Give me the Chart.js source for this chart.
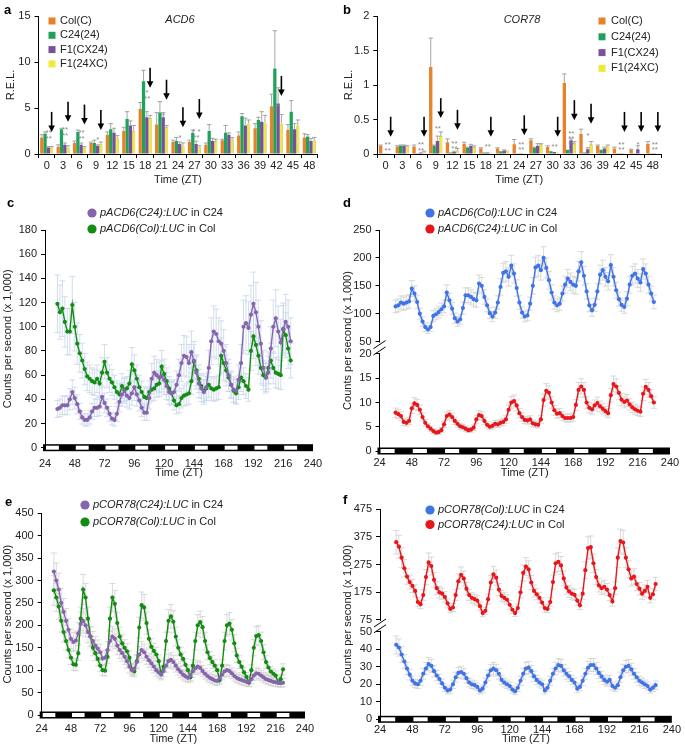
<!DOCTYPE html>
<html lang="en">
<head>
<meta charset="UTF-8">
<title>ACD6 and COR78 expression in Col, C24 and hybrids</title>
<script src="https://cdn.jsdelivr.net/npm/chart.js"></script>
<style>
  body { margin: 0; width: 685px; height: 750px; position: relative; background: #fff; overflow: hidden; }
  canvas { position: absolute; }
</style>
</head>
<body>
<canvas id="chartA" width="330" height="192" style="left:0;top:0"></canvas>
<canvas id="chartB" width="340" height="192" style="left:340px;top:0"></canvas>
<canvas id="chartC" width="335" height="290" style="left:0;top:190px"></canvas>
<canvas id="chartD" width="345" height="290" style="left:340px;top:190px"></canvas>
<canvas id="chartE" width="335" height="270" style="left:0;top:480px"></canvas>
<canvas id="chartF" width="345" height="270" style="left:340px;top:480px"></canvas>

<script>
// ---- bar panels (a, b): relative expression level at each ZT ----
const barTimes = [0, 3, 6, 9, 12, 15, 18, 21, 24, 27, 30, 33, 36, 39, 42, 45, 48];
const barNames = ['Col(C)', 'C24(24)', 'F1(CX24)', 'F1(24XC)'];

const acd6Col = [1.8, 0.8, 1.2, 1.2, 2.1, 2.5, 4.9, 3.2, 1.3, 1.3, 1.0, 1.5, 2.0, 2.8, 5.2, 2.6, 1.8];
const acd6C24 = [2.2, 2.7, 2.4, 1.2, 2.7, 3.8, 7.9, 4.5, 1.4, 2.3, 2.5, 2.3, 4.1, 3.7, 9.3, 4.6, 1.9];
const acd6CX = [0.7, 1.0, 1.0, 0.9, 2.3, 3.1, 4.0, 4.0, 1.1, 1.1, 1.4, 2.1, 3.1, 3.5, 5.5, 2.7, 1.4];
const acd6XC = [0.7, 0.7, 0.7, 1.1, 1.8, 2.5, 3.9, 2.9, 0.9, 0.8, 1.4, 1.6, 3.3, 3.4, 3.3, 3.1, 1.5];
const acd6ColSd = [0.3, 0.2, 0.2, 0.1, 0.3, 0.4, 0.7, 1.3, 0.2, 0.2, 0.2, 0.1, 0.4, 0.5, 1.3, 0.6, 0.4];
const acd6C24Sd = [0.2, 0.1, 0.2, 0.3, 0.6, 0.8, 1.2, 1.2, 0.4, 0.3, 0.7, 0.8, 0.3, 0.3, 4.1, 1.2, 0.2];
const acd6CXSd = [0.1, 0.2, 0.2, 0.1, 0.5, 0.5, 0.6, 0.5, 0.2, 0.3, 0.3, 0.2, 0.8, 1.1, 1.7, 0.6, 0.3];
const acd6XCSd = [0.1, 0.2, 0.1, 0.2, 0.2, 0.6, 0.3, 0.2, 0.3, 0.1, 0.2, 0.2, 0.4, 0.8, 1.0, 0.6, 0.3];
const acd6Arrows = [[0, 2.4], [3, 3.5], [6, 3.2], [9, 2.6], [18, 7.2], [21, 5.9], [24, 2.9], [27, 3.8], [42, 6.3]];
const acd6Stars = [[0, 2.3, '**', '**'], [3, 2.6, '**', '**'], [6, 2.3, '**', '**'], [9, 1.5, '*'],
  [18, 6.6, '*', '**'], [21, 4.1, '*'], [24, 1.8, '*'], [27, 2.4, '* *', '**'], [42, 5.1, '*']];

const cor78Col = [0.12, 0.11, 0.11, 1.26, 0.17, 0.15, 0.08, 0.08, 0.14, 0.20, 0.10, 1.03, 0.29, 0.12, 0.08, 0.06, 0.15];
const cor78C24 = [0.005, 0.12, 0.01, 0.12, 0.02, 0.09, 0.02, 0.04, 0.005, 0.09, 0.04, 0.06, 0.02, 0.06, 0.01, 0.005, 0.005];
const cor78CX = [0.005, 0.12, 0.02, 0.19, 0.03, 0.12, 0.02, 0.05, 0.005, 0.12, 0.03, 0.20, 0.07, 0.08, 0.01, 0.07, 0.005];
const cor78XC = [0.005, 0.11, 0.03, 0.26, 0.05, 0.10, 0.02, 0.05, 0.005, 0.14, 0.02, 0.16, 0.14, 0.12, 0.005, 0.005, 0.005];
const cor78ColSd = [0.01, 0.01, 0.02, 0.42, 0.05, 0.02, 0.01, 0.01, 0.07, 0.02, 0.02, 0.13, 0.07, 0.01, 0.02, 0.01, 0.03];
const cor78C24Sd = [0, 0.01, 0, 0.01, 0, 0.01, 0, 0, 0, 0.01, 0, 0, 0, 0, 0, 0, 0];
const cor78CXSd = [0, 0.01, 0, 0.07, 0.01, 0.02, 0, 0.01, 0, 0.03, 0, 0.02, 0.02, 0.02, 0, 0.05, 0];
const cor78XCSd = [0, 0.01, 0.01, 0.06, 0.03, 0.02, 0, 0, 0, 0.01, 0, 0.02, 0.04, 0.01, 0, 0, 0];
const cor78Arrows = [[0, 0.25], [6, 0.25], [9, 0.52], [12, 0.35], [18, 0.25], [24, 0.27], [30, 0.25],
  [33, 0.49], [36, 0.44], [42, 0.32], [45, 0.32], [48, 0.32]];
const cor78Stars = [[0, 0.13, '**', '**'], [6, 0.13, '**', '**'], [9, 0.36, '**'], [12, 0.15, '**', '**'],
  [18, 0.1, '**'], [24, 0.14, '**', '**'], [30, 0.11, '**'], [33, 0.3, '**', '**', '**'], [36, 0.27, '*'],
  [42, 0.14, '**', '**'], [45, 0.13, '*'], [48, 0.14, '**', '**']];

// ---- luciferase traces (c-f) ----
const timesCE = [34, 36, 38, 40, 42, 44, 46, 48, 50, 52, 54, 56, 58, 60, 62, 64, 66, 68, 70, 72, 74, 76, 78, 80,
  82, 84, 86, 88, 90, 92, 94, 96, 98, 100, 102, 104, 106, 108, 110, 112, 114, 116, 118, 120, 122, 124, 126,
  128, 130, 132, 134, 136, 138, 140, 142, 144, 146, 148, 150, 152, 154, 156, 158, 160, 162, 164, 166, 168,
  170, 172, 174, 176, 178, 180, 182, 184, 186, 188, 190, 192, 194, 196, 198, 200, 202, 204, 206, 208, 210,
  212, 214, 216, 218, 220, 222];
const timesDF = [36, 38, 40, 42, 44, 46, 48, 50, 52, 54, 56, 58, 60, 62, 64, 66, 68, 70, 72, 74, 76, 78, 80,
  82, 84, 86, 88, 90, 92, 94, 96, 98, 100, 102, 104, 106, 108, 110, 112, 114, 116, 118, 120, 122, 124, 126,
  128, 130, 132, 134, 136, 138, 140, 142, 144, 146, 148, 150, 152, 154, 156, 158, 160, 162, 164, 166, 168,
  170, 172, 174, 176, 178, 180, 182, 184, 186, 188, 190, 192, 194, 196, 198, 200, 202, 204, 206, 208, 210,
  212, 214, 216, 218, 220, 222, 224, 226, 228];

const acd6C24inC24 = [32, 33, 35, 35, 35, 40, 46, 41, 36, 30, 25, 23, 23, 25, 30, 33, 33, 34, 42, 37,
  33, 28, 24, 23, 28, 38, 44, 47, 43, 41, 45, 50, 44, 39, 33, 29, 29, 41, 57, 62,
  60, 58, 59, 56, 51, 46, 45, 46, 52, 60, 70, 76, 75, 70, 79, 72, 62, 53, 49, 46,
  50, 66, 88, 96, 94, 88, 86, 80, 70, 60, 52, 48, 47, 56, 70, 100, 103, 99, 110, 119,
  112, 100, 86, 66, 58, 62, 82, 100, 107, 96, 87, 98, 104, 100, 88];
const acd6ColinCol = [119, 112, 115, 104, 96, 96, 118, 100, 86, 78, 72, 65, 59, 57, 55, 54, 57, 53, 62, 71,
  62, 57, 54, 50, 46, 44, 51, 48, 49, 53, 69, 64, 57, 50, 46, 42, 41, 46, 48, 49,
  52, 53, 67, 61, 55, 49, 45, 39, 35, 36, 41, 43, 44, 45, 55, 71, 64, 57, 51, 47,
  49, 52, 49, 48, 49, 50, 76, 70, 64, 58, 52, 47, 45, 50, 58, 55, 51, 48, 80, 92,
  85, 76, 66, 60, 58, 66, 72, 66, 62, 61, 60, 98, 93, 82, 72];

const acd6ColinC24 = [113, 115, 120, 118, 120, 122, 145, 136, 121, 100, 86, 76, 72, 76, 96, 99, 103, 108, 113, 138,
  124, 109, 92, 86, 90, 110, 133, 133, 130, 126, 124, 154, 150, 130, 115, 101, 95, 102, 120, 148,
  173, 176, 166, 186, 172, 146, 120, 102, 95, 97, 118, 150, 183, 186, 178, 200, 182, 160, 138, 120,
  115, 118, 136, 152, 163, 157, 152, 150, 176, 192, 168, 140, 115, 106, 116, 140, 170, 178, 166, 158,
  187, 166, 142, 126, 116, 112, 127, 152, 168, 172, 163, 156, 180, 172, 152, 136, 121];
const acd6C24inCol = [7.9, 7.6, 7.2, 6.0, 5.8, 6.2, 8.8, 9.8, 9.5, 8.5, 7.0, 5.8, 5.1, 4.6, 4.1, 3.8, 3.9, 4.3, 5.5, 7.2,
  7.5, 7.0, 6.2, 5.6, 5.1, 4.9, 4.6, 4.3, 4.4, 4.8, 6.5, 7.4, 7.2, 6.2, 5.4, 5.0, 5.2, 5.6, 5.5, 5.8,
  6.0, 6.5, 8.5, 10.0, 10.3, 9.4, 7.8, 7.0, 6.4, 6.3, 6.5, 5.7, 5.5, 5.4, 6.5, 10.5, 12.4, 12.0, 10.0, 8.4,
  7.7, 7.8, 7.2, 6.8, 6.8, 6.8, 7.0, 9.5, 12.6, 13.3, 12.6, 10.0, 8.9, 8.6, 9.4, 9.9, 9.2, 8.7, 8.2, 7.8,
  11.5, 13.8, 13.3, 12.0, 10.6, 10.1, 10.4, 9.6, 9.0, 8.6, 8.3, 8.1, 11.8, 13.2, 12.6, 11.3, 10.0];

const cor78C24inC24 = [320, 300, 280, 250, 230, 210, 190, 170, 163, 166, 182, 203, 210, 200, 185, 175, 165, 155, 148, 140,
  126, 128, 145, 165, 175, 170, 155, 145, 138, 130, 120, 108, 100, 103, 118, 135, 145, 140, 130, 122,
  115, 108, 100, 95, 90, 98, 110, 120, 123, 118, 110, 102, 96, 90, 86, 83, 88, 97, 104, 108,
  105, 98, 92, 87, 83, 80, 77, 76, 82, 90, 97, 100, 98, 93, 87, 83, 80, 78, 76, 74,
  74, 80, 88, 93, 92, 88, 84, 80, 78, 76, 74, 73, 72, 71, 72];
const cor78ColinCol = [278, 262, 242, 210, 185, 165, 145, 128, 113, 112, 138, 215, 280, 262, 215, 175, 150, 138, 125, 110,
  100, 99, 130, 215, 262, 248, 205, 175, 160, 150, 142, 128, 102, 97, 120, 195, 245, 240, 205, 170,
  152, 143, 135, 120, 92, 108, 165, 210, 220, 208, 175, 150, 135, 125, 112, 100, 84, 110, 165, 200,
  207, 196, 165, 140, 127, 118, 110, 100, 78, 110, 165, 200, 204, 190, 160, 133, 118, 108, 95, 85,
  72, 100, 150, 176, 178, 165, 140, 118, 106, 97, 92, 88, 72, 80, 102];

const cor78ColinC24 = [42.5, 41, 37, 33, 29, 25.5, 22, 20.5, 20, 22, 26, 29, 31.5, 30.5, 27.5, 25, 23, 20.5, 18, 16.5,
  17, 20, 24, 26.5, 27, 26, 23.5, 21, 20, 19.5, 18.5, 16.5, 17.5, 21, 25, 28, 29, 28, 26, 22.5,
  21, 20, 19, 17, 16, 18, 22, 26, 29, 29.5, 27.5, 24.5, 22.5, 21, 20, 16.5, 18, 22, 26, 29,
  31, 30.5, 28, 26, 24.5, 22.5, 21, 17.5, 18.5, 22, 26, 29.5, 31, 31, 29, 26.5, 24.5, 22.5, 21.5, 22.5,
  19, 18, 19.5, 24, 28, 30, 30.5, 28.5, 26, 24, 22, 21, 20, 19, 17, 18, 19.5];
const cor78C24inCol = [356, 340, 300, 262, 232, 212, 198, 180, 140, 132, 165, 230, 283, 270, 220, 190, 175, 170, 158, 135,
  115, 120, 165, 215, 238, 225, 188, 165, 155, 150, 145, 125, 100, 108, 150, 210, 240, 228, 185, 162,
  155, 148, 130, 112, 100, 118, 175, 245, 268, 258, 210, 180, 168, 155, 138, 118, 115, 140, 212, 280,
  285, 272, 225, 192, 178, 170, 166, 145, 128, 170, 255, 335, 338, 280, 230, 200, 190, 195, 185, 165,
  142, 190, 300, 360, 355, 300, 258, 225, 232, 205, 188, 170, 180, 195, 155, 168, 205];

const ticksC = [0, 20, 40, 60, 80, 100, 120, 140, 160, 180];
const ticksD = [0, 5, 10, 15, 20, 50, 100, 150, 200, 250];
const ticksE = [0, 50, 100, 150, 200, 250, 300, 350, 400, 450];
const ticksF = [0, 10, 20, 30, 40, 50, 75, 175, 275, 375, 475];

// ---- styling ----
const FONT = "'Liberation Sans', Arial, sans-serif";
const barColors = ['#e8822a', '#1fa35b', '#7b4e9e', '#eeea3a'];
const PURPLE = '#8765ad', GREEN = '#138c13', BLUE = '#3f74e6', RED = '#e8161b';

Chart.defaults.font.family = FONT;
Chart.defaults.font.size = 11;
Chart.defaults.color = '#222';
Chart.defaults.animation = false;
Chart.defaults.events = [];
Chart.defaults.plugins.legend.display = false;
Chart.defaults.plugins.tooltip.enabled = false;

// linear axis with a gap between a low and a high segment (panels d and f)
class BrokenScale extends Chart.LinearScale {
  getPixelForValue(v) {
    const b = this.options.brk;
    const h = this.bottom - this.top;
    const lowH = h * b.lowFrac, gapH = h * b.gapFrac, highH = h - lowH - gapH;
    if (v <= b.lo1) return this.bottom - (v - b.lo0) / (b.lo1 - b.lo0) * lowH;
    if (v >= b.hi0) return this.top + highH - (v - b.hi0) / (b.hi1 - b.hi0) * highH;
    return this.bottom - lowH - gapH / 2;
  }
  getValueForPixel(px) {
    const b = this.options.brk;
    const h = this.bottom - this.top;
    const lowH = h * b.lowFrac, gapH = h * b.gapFrac, highH = h - lowH - gapH;
    if (px >= this.bottom - lowH) return b.lo0 + (this.bottom - px) / lowH * (b.lo1 - b.lo0);
    return b.hi0 + (this.top + highH - px) / highH * (b.hi1 - b.hi0);
  }
}
BrokenScale.id = 'broken';
Chart.register(BrokenScale);

const fixW = w => s => { s.width = w; };
const fixH = h => s => { s.height = h; };

function drawLegend(ctx, lg) {
  lg.items.forEach((it, k) => {
    const y = lg.y + k * lg.dy;
    ctx.fillStyle = it[0];
    if (lg.shape === 'circle') {
      ctx.beginPath(); ctx.arc(lg.x, y, 4.6, 0, Math.PI * 2); ctx.fill();
    } else {
      ctx.fillRect(lg.x - 3.5, y - 3.5, 7, 7);
    }
    let tx = lg.tx;
    ctx.fillStyle = '#222';
    ctx.textAlign = 'left';
    ctx.textBaseline = 'middle';
    if (it[1]) {
      ctx.font = 'italic 11px ' + FONT;
      ctx.fillText(it[1], tx, y);
      tx += ctx.measureText(it[1]).width;
    }
    ctx.font = '11px ' + FONT;
    ctx.fillText(it[2], tx, y);
  });
}

// per-chart decorations: panel letter, legend, error bars, arrows, LD strip, axis break
function decor(d) {
  return {
    id: 'decor',
    beforeDatasetsDraw(chart) {
      if (!d.errColor) return;
      const ctx = chart.ctx;
      ctx.save();
      ctx.strokeStyle = d.errColor;
      ctx.lineWidth = 0.8;
      chart.data.datasets.forEach((ds, i) => {
        if (!ds.relErr) return;
        const meta = chart.getDatasetMeta(i);
        const ys = chart.scales[meta.yAxisID];
        meta.data.forEach((pt, j) => {
          const v = ds.data[j].y;
          const y1 = ys.getPixelForValue(v * (1 - ds.relErr));
          const y2 = ys.getPixelForValue(v * (1 + ds.relErr));
          ctx.beginPath();
          ctx.moveTo(pt.x, y1); ctx.lineTo(pt.x, y2);
          ctx.moveTo(pt.x - 3, y1); ctx.lineTo(pt.x + 3, y1);
          ctx.moveTo(pt.x - 3, y2); ctx.lineTo(pt.x + 3, y2);
          ctx.stroke();
        });
      });
      ctx.restore();
    },
    afterDatasetsDraw(chart) {
      const ctx = chart.ctx;
      const ys = chart.scales.y;
      ctx.save();
      ctx.strokeStyle = '#8f8f8f';
      ctx.lineWidth = 0.8;
      chart.data.datasets.forEach((ds, i) => {
        if (!ds.sd) return;
        chart.getDatasetMeta(i).data.forEach((bar, j) => {
          if (!ds.sd[j]) return;
          const top = ys.getPixelForValue(ds.data[j] + ds.sd[j]);
          ctx.beginPath();
          ctx.moveTo(bar.x, bar.y); ctx.lineTo(bar.x, top);
          ctx.moveTo(bar.x - 2.2, top); ctx.lineTo(bar.x + 2.2, top);
          ctx.stroke();
        });
      });
      ctx.restore();
    },
    afterDraw(chart) {
      const ctx = chart.ctx, area = chart.chartArea;
      const xs = chart.scales.x, ys = chart.scales.y;
      ctx.save();
      ctx.fillStyle = '#000';
      ctx.font = 'bold 13px ' + FONT;
      ctx.textAlign = 'left';
      ctx.textBaseline = 'middle';
      ctx.fillText(d.letter[0], d.letter[1], d.letter[2]);

      if (d.gene) {
        ctx.font = 'italic 11px ' + FONT;
        ctx.textAlign = 'center';
        ctx.fillStyle = '#222';
        ctx.fillText(d.gene[0], d.gene[1], d.gene[2]);
      }
      if (d.legend) drawLegend(ctx, d.legend);

      if (d.stars) {
        const w = (area.right - area.left) / barTimes.length;
        ctx.fillStyle = '#8a8a8a';
        ctx.font = '8px ' + FONT;
        ctx.textAlign = 'center';
        d.stars.forEach(s => {
          const x = xs.getPixelForValue(barTimes.indexOf(s[0])) + 0.12 * w;
          const y = ys.getPixelForValue(s[1]);
          s.slice(2).forEach((txt, r) => ctx.fillText(txt, x, y + r * 5.5));
        });
      }
      if (d.arrows) {
        const w = (area.right - area.left) / barTimes.length;
        ctx.strokeStyle = '#000';
        ctx.fillStyle = '#000';
        ctx.lineWidth = 1.6;
        d.arrows.forEach(a => {
          const x = xs.getPixelForValue(barTimes.indexOf(a[0])) + 0.3 * w;
          const tip = ys.getPixelForValue(a[1]);
          ctx.beginPath();
          ctx.moveTo(x, tip - 20); ctx.lineTo(x, tip - 5);
          ctx.stroke();
          ctx.beginPath();
          ctx.moveTo(x - 3.3, tip - 6.5); ctx.lineTo(x + 3.3, tip - 6.5); ctx.lineTo(x, tip);
          ctx.closePath(); ctx.fill();
        });
      }
      if (d.ld) {
        const y0 = area.bottom;
        const x0 = xs.getPixelForValue(24), x1 = xs.getPixelForValue(240);
        ctx.fillStyle = '#000';
        ctx.fillRect(x0 - 2, y0 - 3.5, x1 - x0 + 2, 7);
        ctx.fillStyle = '#fff';
        for (let t = 24; t < 240; t += 24) {
          const a = xs.getPixelForValue(t) + 1, b = xs.getPixelForValue(t + 12) - 1;
          ctx.fillRect(a, y0 - 2, b - a, 4);
        }
      }
      if (d.brk) {
        const b = ys.options.brk;
        const yHi = ys.getPixelForValue(b.hi0), yLo = ys.getPixelForValue(b.lo1);
        const x = area.left;
        ctx.fillStyle = '#fff';
        ctx.fillRect(x - 2, yHi + 1, 4, yLo - yHi - 2);
        ctx.strokeStyle = '#000';
        ctx.lineWidth = 1;
        [yHi + 3, yLo - 3].forEach(y => {
          ctx.beginPath();
          ctx.moveTo(x - 6, y + 4); ctx.lineTo(x + 6, y - 4);
          ctx.stroke();
        });
      }
      ctx.restore();
    }
  };
}

function barChart(id, cfg) {
  new Chart(document.getElementById(id), {
    type: 'bar',
    data: {
      labels: barTimes,
      datasets: cfg.values.map((vals, k) => ({
        label: barNames[k],
        data: vals,
        sd: cfg.sds[k],
        backgroundColor: barColors[k],
        borderColor: k === 3 ? '#b0ab2a' : barColors[k],
        borderWidth: k === 3 ? 0.6 : 0,
        barPercentage: 1,
        categoryPercentage: 0.8
      }))
    },
    options: {
      responsive: false,
      layout: { padding: cfg.pad },
      scales: {
        x: {
          grid: { offset: true, drawOnChartArea: false, tickLength: 4, color: '#000' },
          border: { color: '#000' },
          ticks: { padding: 1, autoSkip: false, maxRotation: 0 },
          title: { display: true, text: 'Time (ZT)', padding: { top: 0, bottom: 5 } },
          afterFit: fixH(38)
        },
        y: {
          min: 0, max: cfg.max,
          ticks: { stepSize: cfg.step, padding: 4, callback: v => String(v) },
          grid: { drawOnChartArea: false, tickLength: 4, color: '#000' },
          border: { color: '#000' },
          title: { display: true, text: 'R.E.L.', padding: { top: 2, bottom: 0 } },
          afterFit: fixW(cfg.yW)
        }
      }
    },
    plugins: [decor(cfg.decor)]
  });
}

function lineChart(id, cfg) {
  new Chart(document.getElementById(id), {
    type: 'line',
    data: {
      datasets: cfg.series.map(s => ({
        label: s.label,
        data: cfg.times.map((t, i) => ({ x: t, y: s.values[i] })),
        borderColor: s.color,
        backgroundColor: s.color,
        pointBackgroundColor: s.color,
        borderWidth: 1.4,
        pointRadius: 2.1,
        pointBorderWidth: 0,
        relErr: s.relErr
      }))
    },
    options: {
      responsive: false,
      layout: { padding: cfg.pad },
      scales: {
        x: {
          type: 'linear', min: 24, max: 240,
          ticks: { stepSize: 24, padding: cfg.xPad, callback: v => String(v) },
          grid: { display: false, drawTicks: false, tickLength: 0 },
          border: { display: false },
          title: { display: true, text: 'Time (ZT)', padding: { top: 0, bottom: 0 } },
          afterFit: fixH(cfg.xH)
        },
        y: {
          type: cfg.brk ? 'broken' : 'linear',
          min: 0, max: cfg.yTicks[cfg.yTicks.length - 1],
          brk: cfg.brk,
          afterBuildTicks: s => { s.ticks = cfg.yTicks.map(v => ({ value: v })); },
          ticks: { padding: 4, callback: v => String(v) },
          grid: { drawOnChartArea: false, tickLength: 4, color: '#000' },
          border: { color: '#000' },
          title: { display: true, text: 'Counts per second (x 1,000)', padding: { top: 1, bottom: 0 } },
          afterFit: fixW(cfg.yW)
        }
      }
    },
    plugins: [decor(Object.assign({ ld: true, brk: !!cfg.brk }, cfg.decor))]
  });
}

barChart('chartA', {
  values: [acd6Col, acd6C24, acd6CX, acd6XC],
  sds: [acd6ColSd, acd6C24Sd, acd6CXSd, acd6XCSd],
  max: 15, step: 5, yW: 36.5,
  pad: { left: 2, right: 12.5, top: 16, bottom: 0 },
  decor: {
    letter: ['a', 4, 10], gene: ['ACD6', 180, 20],
    legend: { shape: 'square', x: 52, tx: 60, y: 21, dy: 14.3, items: barNames.map((n, k) => [barColors[k], '', n]) },
    arrows: acd6Arrows, stars: acd6Stars
  }
});

barChart('chartB', {
  values: [cor78Col, cor78C24, cor78CX, cor78XC],
  sds: [cor78ColSd, cor78C24Sd, cor78CXSd, cor78XCSd],
  max: 2, step: 0.5, yW: 37.3,
  pad: { left: 0, right: 18.8, top: 16, bottom: 0 },
  decor: {
    letter: ['b', 3, 10], gene: ['COR78', 182, 20],
    legend: { shape: 'square', x: 262, tx: 271, y: 21, dy: 15.8, items: barNames.map((n, k) => [barColors[k], '', n]) },
    arrows: cor78Arrows, stars: cor78Stars
  }
});

lineChart('chartC', {
  times: timesCE, yTicks: ticksC, yW: 45, xH: 32.3, xPad: 10,
  pad: { left: 0, right: 22, top: 40, bottom: 0 },
  series: [
    { label: 'pACD6(C24):LUC in C24', values: acd6C24inC24, color: PURPLE, relErr: 0.22 },
    { label: 'pACD6(Col):LUC in Col', values: acd6ColinCol, color: GREEN, relErr: 0.2 }
  ],
  decor: {
    letter: ['c', 7, 13], errColor: '#c5d5ea',
    legend: { shape: 'circle', x: 92, tx: 100, y: 23, dy: 16, items: [
      [PURPLE, 'pACD6(C24):LUC', ' in C24'], [GREEN, 'pACD6(Col):LUC', ' in Col']] }
  }
});

lineChart('chartD', {
  times: timesDF, yTicks: ticksD, yW: 39.5, xH: 29, xPad: 5,
  pad: { left: 0, right: 15, top: 40, bottom: 0 },
  brk: { lo0: 0, lo1: 20, hi0: 50, hi1: 250, lowFrac: 0.439, gapFrac: 0.056 },
  series: [
    { label: 'pACD6(Col):LUC in C24', values: acd6ColinC24, color: BLUE, relErr: 0.1 },
    { label: 'pACD6(C24):LUC in Col', values: acd6C24inCol, color: RED, relErr: 0.12 }
  ],
  decor: {
    letter: ['d', 3, 13], errColor: '#cfcfcf',
    legend: { shape: 'circle', x: 90, tx: 98, y: 23, dy: 16, items: [
      [BLUE, 'pACD6(Col):LUC', ' in C24'], [RED, 'pACD6(C24):LUC', ' in Col']] }
  }
});

lineChart('chartE', {
  times: timesCE, yTicks: ticksE, yW: 41.7, xH: 31, xPad: 7,
  pad: { left: 0, right: 30, top: 33.3, bottom: 4 },
  series: [
    { label: 'pCOR78(C24):LUC in C24', values: cor78C24inC24, color: PURPLE, relErr: 0.13 },
    { label: 'pCOR78(Col):LUC in Col', values: cor78ColinCol, color: GREEN, relErr: 0.12 }
  ],
  decor: {
    letter: ['e', 5, 22], errColor: '#cfcfcf',
    legend: { shape: 'circle', x: 85, tx: 93, y: 25, dy: 17, items: [
      [PURPLE, 'pCOR78(C24):LUC', ' in C24'], [GREEN, 'pCOR78(Col):LUC', ' in Col']] }
  }
});

lineChart('chartF', {
  times: timesDF, yTicks: ticksF, yW: 40, xH: 26.7, xPad: 4,
  pad: { left: 0, right: 12, top: 29.3, bottom: 4 },
  brk: { lo0: 0, lo1: 50, hi0: 75, hi1: 475, lowFrac: 0.417, gapFrac: 0.056 },
  series: [
    { label: 'pCOR78(Col):LUC in C24', values: cor78ColinC24, color: BLUE, relErr: 0.12 },
    { label: 'pCOR78(C24):LUC in Col', values: cor78C24inCol, color: RED, relErr: 0.12 }
  ],
  decor: {
    letter: ['f', 3, 20], errColor: '#cfcfcf',
    legend: { shape: 'circle', x: 90, tx: 98, y: 30, dy: 14.5, items: [
      [BLUE, 'pCOR78(Col):LUC', ' in C24'], [RED, 'pCOR78(C24):LUC', ' in Col']] }
  }
});
</script>
</body>
</html>
